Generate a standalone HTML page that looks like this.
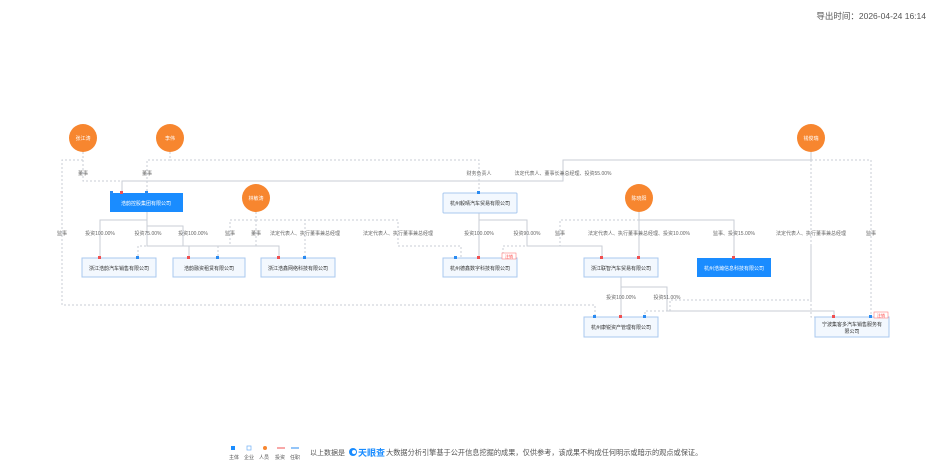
<!DOCTYPE html>
<html><head><meta charset="utf-8"><style>
html,body{margin:0;padding:0;background:#fff;}
svg text{font-family:"Liberation Sans","Noto Sans CJK SC",sans-serif;}
</style></head><body>
<svg width="936" height="464" viewBox="0 0 936 464" xmlns="http://www.w3.org/2000/svg">
<rect width="936" height="464" fill="#fff"/>
<text x="926" y="19" font-size="8.5" fill="#555" text-anchor="end">导出时间：2026-04-24 16:14</text>

<g fill="none" stroke="#c9ced6" stroke-width="1">
<path d="M811 152 V160 H563 V181 H122 V193"/>
<path d="M147 212 V220 H100 V258"/>
<path d="M147 212 V246 H189 V258"/>
<path d="M147 212 V226 H183 V246 H279 V258"/>
<path d="M479 213 V258"/>
<path d="M479 213 V220 H527 V246 H602 V258"/>
<path d="M639 212 V258"/>
<path d="M639 212 V220 H734 V258"/>
<path d="M621 277 V317"/>
<path d="M621 277 V287 H667 V311 H834 V317"/>
</g>
<g fill="none" stroke="#c9ced6" stroke-width="1" stroke-dasharray="2,2">
<path d="M83 152 V160 H62 V305 H595 V317"/>
<path d="M83 152 V181 H122"/>
<path d="M170 152 V160 H147 V193"/>
<path d="M170 152 V160 H479 V193"/>
<path d="M256 212 V220 H230 V246 H138 V258"/>
<path d="M256 212 V246 H218 V258"/>
<path d="M256 212 V220 H305 V258"/>
<path d="M256 212 V220 H398 V246 H461 V258"/>
<path d="M639 212 V220 H560 V246 H503 V258"/>
<path d="M811 152 V317 H870"/>
<path d="M811 160 H871 V317"/>
<path d="M811 246 V300 H670 V311 H645 V317"/>
</g>

<g fill="#f7862f">
<circle cx="83" cy="138" r="14"/><circle cx="170" cy="138" r="14"/>
<circle cx="256" cy="198" r="14"/><circle cx="639" cy="198" r="14"/>
<circle cx="811" cy="138" r="14"/>
</g>
<g font-size="5" fill="#fff" text-anchor="middle">
<text x="83" y="140">张江涛</text><text x="170" y="140">李伟</text>
<text x="256" y="200">林敏涛</text><text x="639" y="200">陈晓阳</text>
<text x="811" y="140">钱俊瑞</text>
</g>

<g stroke="#a9c8ef" stroke-width="1" fill="#f3f8fe">
<rect x="443" y="193" width="74" height="20" rx="1"/>
<rect x="82" y="258" width="74" height="19"/>
<rect x="173" y="258" width="72" height="19"/>
<rect x="261" y="258" width="74" height="19"/>
<rect x="443" y="258" width="74" height="19"/>
<rect x="584" y="258" width="74" height="19"/>
<rect x="584" y="317" width="74" height="20"/>
<rect x="815" y="317" width="74" height="20"/>
</g>
<rect x="110" y="193" width="73" height="19" fill="#1a8cff"/>
<rect x="697" y="258" width="74" height="19" fill="#1a8cff"/>
<g font-size="5" fill="#333" text-anchor="middle">
<text x="146" y="205" fill="#fff">浩韵控股集团有限公司</text>
<text x="480" y="205">杭州毅晴汽车贸易有限公司</text>
<text x="119" y="270">浙江浩韵汽车销售有限公司</text>
<text x="209" y="270">浩韵融资租赁有限公司</text>
<text x="298" y="270">浙江浩鑫网络科技有限公司</text>
<text x="480" y="270">杭州德鑫数字科技有限公司</text>
<text x="621" y="270">浙江联智汽车贸易有限公司</text>
<text x="734" y="270" fill="#fff">杭州浩瀚信息科技有限公司</text>
<text x="621" y="329">杭州康锐资产管理有限公司</text>
<text x="852" y="326">宁波集客多汽车销售服务有</text>
<text x="852" y="333">限公司</text>
</g>
<rect x="502" y="253" width="14" height="6" fill="#fff" stroke="#f66" stroke-width="0.5"/>
<text x="509" y="258" font-size="4" fill="#f44" text-anchor="middle">注销</text>
<rect x="874" y="312" width="14" height="6" fill="#fff" stroke="#f66" stroke-width="0.5"/>
<text x="881" y="317" font-size="4" fill="#f44" text-anchor="middle">注销</text>

<g fill="#f05050">
<rect x="120" y="191" width="3" height="3"/><rect x="98" y="256" width="3" height="3"/>
<rect x="187" y="256" width="3" height="3"/><rect x="277" y="256" width="3" height="3"/>
<rect x="477" y="256" width="3" height="3"/><rect x="600" y="256" width="3" height="3"/>
<rect x="637" y="256" width="3" height="3"/><rect x="732" y="256" width="3" height="3"/>
<rect x="619" y="315" width="3" height="3"/><rect x="832" y="315" width="3" height="3"/>
</g>
<g fill="#2a8bf2">
<rect x="110" y="191" width="3" height="3"/><rect x="145" y="191" width="3" height="3"/>
<rect x="477" y="191" width="3" height="3"/><rect x="136" y="256" width="3" height="3"/>
<rect x="216" y="256" width="3" height="3"/><rect x="303" y="256" width="3" height="3"/>
<rect x="454" y="256" width="3" height="3"/><rect x="593" y="315" width="3" height="3"/>
<rect x="643" y="315" width="3" height="3"/><rect x="869" y="315" width="3" height="3"/>
</g>

<g font-size="5" fill="#666" text-anchor="middle">
<text x="83" y="175">董事</text><text x="147" y="175">董事</text>
<text x="479" y="175">财务负责人</text><text x="563" y="175">法定代表人、董事长兼总经理、投资55.00%</text>
<text x="62" y="235">监事</text><text x="100" y="235">投资100.00%</text>
<text x="148" y="235">投资75.00%</text><text x="193" y="235">投资100.00%</text>
<text x="230" y="235">监事</text><text x="256" y="235">董事</text>
<text x="305" y="235">法定代表人、执行董事兼总经理</text>
<text x="398" y="235">法定代表人、执行董事兼总经理</text>
<text x="479" y="235">投资100.00%</text><text x="527" y="235">投资90.00%</text>
<text x="560" y="235">监事</text>
<text x="639" y="235">法定代表人、执行董事兼总经理、投资10.00%</text>
<text x="734" y="235">监事、投资15.00%</text>
<text x="811" y="235">法定代表人、执行董事兼总经理</text>
<text x="871" y="235">监事</text>
<text x="621" y="299">投资100.00%</text><text x="667" y="299">投资51.00%</text>
</g>

<rect x="231" y="446" width="4" height="4" fill="#1a8cff"/>
<rect x="247" y="446" width="4" height="4" fill="#fff" stroke="#6fb0f5" stroke-width="0.7"/>
<circle cx="265" cy="448" r="2" fill="#f7862f"/>
<line x1="277" y1="448" x2="285" y2="448" stroke="#f05050"/>
<line x1="291" y1="448" x2="299" y2="448" stroke="#2a8bf2"/>
<g font-size="5" fill="#555">
<text x="229" y="459">主体</text><text x="244" y="459">企业</text><text x="259" y="459">人员</text>
<text x="275" y="459">投资</text><text x="290" y="459">任职</text>
<text x="310" y="455" font-size="7">以上数据是</text>
<text x="386" y="455" font-size="7.2">大数据分析引擎基于公开信息挖掘的成果，仅供参考，该成果不构成任何明示或暗示的观点或保证。</text>
</g>
<circle cx="353" cy="452" r="4" fill="#1a8cff"/><circle cx="354" cy="452" r="2" fill="#fff"/>
<text x="358" y="456" font-size="9" font-weight="bold" fill="#1a8cff">天眼查</text>
</svg>
</body></html>
